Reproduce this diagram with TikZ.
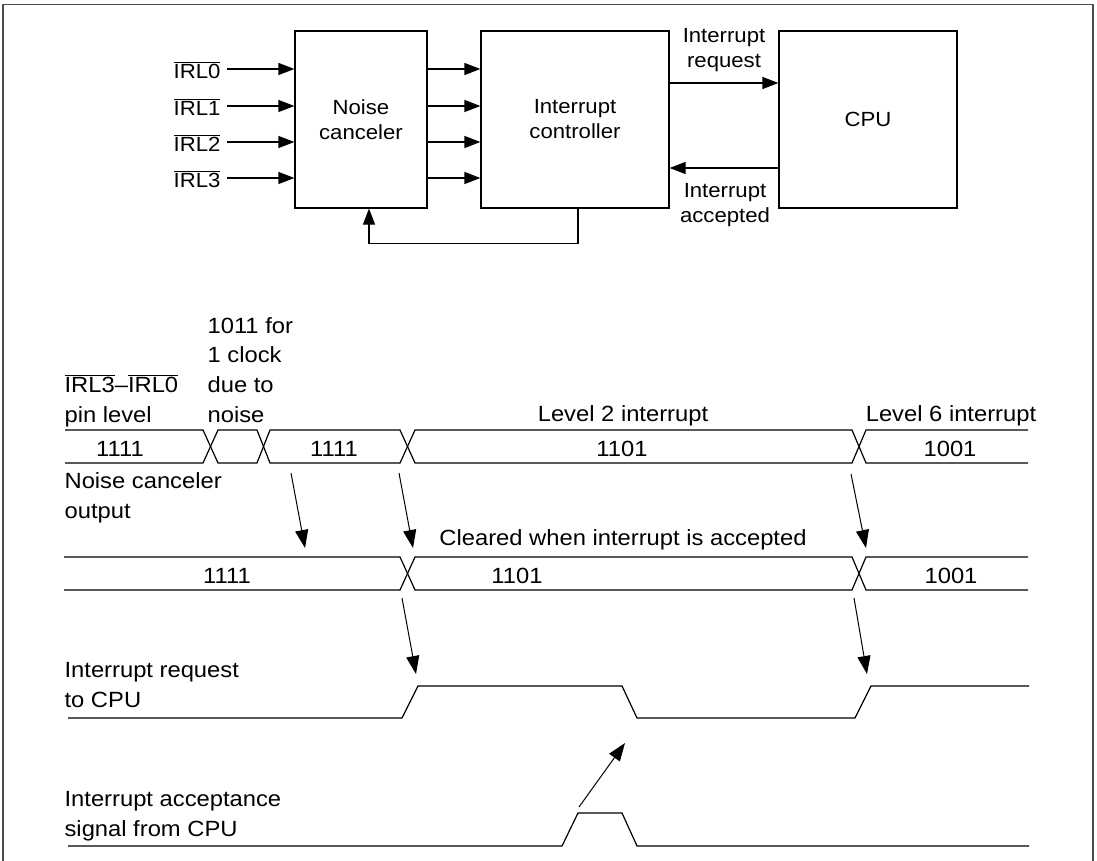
\documentclass[tikz,border=0pt]{standalone}
\usepackage{fontspec}
\setmainfont{Liberation Sans}
\newfontfamily\dgfont[FakeStretch=1.08]{Liberation Sans}
\usetikzlibrary{arrows.meta}
\newcommand{\ovl}[1]{$\overline{\hbox{#1}}$}
\begin{document}
\begin{tikzpicture}[x=1pt,y=-1pt,line width=1.2pt,
  arr/.style={-{Triangle[length=16pt,width=12pt]}},
  tarr/.style={line width=1pt,-{Triangle[length=18pt,width=13pt]}},
  blk/.style={draw,align=center,inner sep=0pt,font=\dgfont\fontsize{20.5}{25}\selectfont},
  lbl/.style={inner sep=0pt,align=center,font=\dgfont\fontsize{20.5}{25.5}\selectfont},
  tl/.style={inner sep=0pt,align=left,font=\dgfont\fontsize{22}{29.6}\selectfont},
  tv/.style={inner sep=0pt,align=center,font=\dgfont\fontsize{22}{29.6}\selectfont},
  wave/.style={line width=1.2pt,line join=miter}]
\useasboundingbox (0,0) rectangle (1097,861);
% frame
\draw[line width=1.5pt,black!70] (3,861) -- (3,4.5) -- (1093,4.5) -- (1093,861);

% ---------------- block diagram ----------------
\node[blk,minimum width=132pt,minimum height=177pt] (nc) at (361,119.5) {Noise\\canceler};
\node[blk,minimum width=188pt,minimum height=177pt] (ic) at (575,119.5) {Interrupt\\controller};
\node[blk,minimum width=178pt,minimum height=177pt] (cpu) at (868,119.5) {CPU};

\foreach \i/\y in {0/69,1/106,2/142,3/178}{
  \coordinate (p\i) at (227,\y);
  \node[lbl,anchor=east] (irl\i) at (221,\y+1) {\ovl{IRL\i}};
  \draw[arr] (p\i) -- (p\i -| nc.west);
  \draw[arr] (p\i -| nc.east) -- (p\i -| ic.west);
}
\draw[arr] ([xshift=3pt]ic.south) -- ++(0,35) -| ([xshift=8pt]nc.south);

\coordinate (rq) at (0,83);
\coordinate (ac) at (0,168);
\draw[arr] (rq -| ic.east) -- (rq -| cpu.west);
\draw[arr] (ac -| cpu.west) -- (ac -| ic.east);
\node[lbl,anchor=base] (rqt) at (724,68) {Interrupt\\request};
\node[lbl,anchor=base] (act) at (725,222.5) {Interrupt\\accepted};

% ---------------- timing diagram ----------------
% labels (anchor = baseline of last line)
\node[tl,anchor=base west] (l1) at (64,422) {\ovl{IRL3}–\ovl{IRL0}\\pin level};
\node[tl,anchor=base west] (l1b) at (207,422) {1011 for\\1 clock\\due to\\noise};
\node[tl,anchor=base west] (l2) at (64,518.5) {Noise canceler\\output};
\node[tl,anchor=base west] (l3) at (64,707.5) {Interrupt request\\to CPU};
\node[tl,anchor=base west] (l4) at (64,836) {Interrupt acceptance\\signal from CPU};
\node[tv,anchor=base] (lv2) at (623,421) {Level 2 interrupt};
\node[tv,anchor=base] (lv6) at (951,421) {Level 6 interrupt};
\node[tv,anchor=base] (clr) at (623,545) {Cleared when interrupt is accepted};

% row 1
\draw[wave] (65,430) -- (203,430) -- (218,463) -- (257,463) -- (270,430) -- (400,430) -- (415,463) -- (852,463) -- (866,430) -- (1028,430);
\draw[wave] (65,463) -- (203,463) -- (218,430) -- (257,430) -- (270,463) -- (400,463) -- (415,430) -- (852,430) -- (866,463) -- (1028,463);
\node[tv,anchor=base] (v11) at (120,456) {1111};
\node[tv,anchor=base] (v12) at (334,456) {1111};
\node[tv,anchor=base] (v13) at (622,456) {1101};
\node[tv,anchor=base] (v14) at (950,456) {1001};

% row 2
\draw[wave] (64,557) -- (400,557) -- (415,590) -- (852,590) -- (866,557) -- (1028,557);
\draw[wave] (64,590) -- (400,590) -- (415,557) -- (852,557) -- (866,590) -- (1028,590);
\node[tv,anchor=base] (v21) at (227,583) {1111};
\node[tv,anchor=base] (v22) at (517,583) {1101};
\node[tv,anchor=base] (v23) at (951,583) {1001};

% row 3
\draw[wave] (68,718) -- (402,718) -- (418,686) -- (622,686) -- (637,718) -- (855,718) -- (871,686) -- (1029,686);
% row 4
\draw[wave] (68,846) -- (562,846) -- (578,813) -- (622,813) -- (637,846) -- (1029,846);

% causal arrows
\coordinate (s1) at (291,473); \coordinate (e1) at (305,548);
\coordinate (s2) at (399,473); \coordinate (e2) at (413,548);
\coordinate (s3) at (851,474); \coordinate (e3) at (866,548);
\coordinate (s4) at (402,598); \coordinate (e4) at (416,674);
\coordinate (s5) at (854,598); \coordinate (e5) at (867,674);
\coordinate (s6) at (579,807); \coordinate (e6) at (625,743);
\foreach \k in {1,...,6}{\draw[tarr] (s\k) -- (e\k);}
\end{tikzpicture}
\end{document}
